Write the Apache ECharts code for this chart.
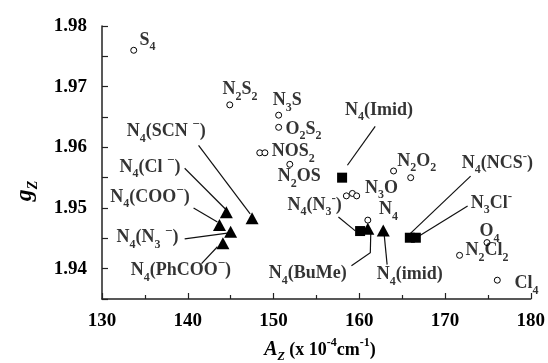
<!DOCTYPE html>
<html>
<head>
<meta charset="utf-8">
<script src="https://cdn.jsdelivr.net/npm/echarts@6/dist/echarts.min.js"></script>
<style>html,body{margin:0;padding:0;background:#fff}#c{width:548px;height:363px}</style>
</head>
<body>
<div id="c"></div>
<script>
// ---- data (A_z in 1e-4 cm^-1, g_z) ----
const openCircles = [
  [133.7, 1.9760], [144.9, 1.9670], [150.6, 1.9653], [150.6, 1.9633],
  [148.4, 1.9591], [149.0, 1.9591], [151.9, 1.9572],
  [158.5, 1.9520], [159.2, 1.9524], [159.7, 1.9520], [161.0, 1.9480],
  [164.0, 1.9561], [166.0, 1.9550],
  [174.9, 1.9443], [171.7, 1.9422], [176.1, 1.9381]
];
const triangles = [
  [147.5, 1.9483], [144.5, 1.9493], [143.7, 1.9472], [145.0, 1.9461],
  [144.1, 1.9442], [161.0, 1.9466], [162.8, 1.9463]
];
const squares = [
  [158.0, 1.9550], [160.1, 1.9462], [165.9, 1.9451], [166.6, 1.9451]
];
// label texts ( _x subscript, ^x superscript )
const labelTexts = [
  'S_4', 'N_2S_2', 'N_3S', 'O_2S_2', 'NOS_2', 'N_2OS', 'N_4(Imid)', 'N_2O_2',
  'N_3O', 'N_4(N_3^-)', 'N_4', 'N_4(NCS^-)', 'N_3Cl^-', 'O_4', 'N_2Cl_2', 'Cl_4',
  'N_4(imid)', 'N_4(BuMe)', 'N_4(SCN ^−)', 'N_4(Cl ^−)', 'N_4(COO^−)',
  'N_4(N_3 ^−)', 'N_4(PhCOO^−)'
];
// label anchors (data coordinates of label centres)
const labelAnchors = [
  [135.3, 1.9777], [146.1, 1.9695], [151.6, 1.9677], [153.5, 1.9630],
  [152.3, 1.9593], [153.0, 1.9552], [162.3, 1.9661], [166.7, 1.9577],
  [162.6, 1.9533], [154.8, 1.9505], [163.4, 1.9497], [176.1, 1.9574],
  [175.4, 1.9508], [175.2, 1.9461], [174.9, 1.9430], [179.5, 1.9375],
  [165.9, 1.9390], [154.0, 1.9392], [137.5, 1.9626], [135.6, 1.9567],
  [135.6, 1.9518], [135.3, 1.9451], [139.2, 1.9397]
];
// leader lines (data coordinates)
const leaderLines = [
  [[161.86, 1.96344], [158.62, 1.95705]],
  [[157.57, 1.94852], [159.54, 1.94623]],
  [[172.99, 1.95525], [165.91, 1.94574]],
  [[172.64, 1.95033], [166.84, 1.94525]],
  [[163.25, 1.94066], [162.90, 1.94574]],
  [[159.09, 1.94049], [161.29, 1.94262], [161.35, 1.94623]],
  [[141.26, 1.96033], [147.28, 1.94902]],
  [[139.64, 1.95656], [144.39, 1.94984]],
  [[140.68, 1.95000], [143.46, 1.94770]],
  [[139.64, 1.94492], [144.85, 1.94590]],
  [[141.61, 1.94082], [143.46, 1.94361]]
];
const xTicks = {min: 130, max: 180, interval: 10};
const yTicks = {min: 1.935, max: 1.98, interval: 0.005};

// ---- rendering ----
const FONT = "'Liberation Serif','Times New Roman',serif";
function toRich(t) {
  let out = '', buf = '';
  const flush = () => { if (buf) { out += '{n|' + buf + '}'; buf = ''; } };
  for (let i = 0; i < t.length; i++) {
    const c = t[i];
    if ((c === '_' || c === '^') && i + 1 < t.length) {
      flush();
      out += (c === '_' ? '{s|' : '{p|') + t[i + 1] + '}';
      i++;
    } else buf += c;
  }
  flush();
  return out;
}
const rich = {
  n: {fontFamily: FONT, fontWeight: 'bold', fontSize: 18, color: '#000', lineHeight: 26},
  s: {fontFamily: FONT, fontWeight: 'bold', fontSize: 12, color: '#000', verticalAlign: 'bottom', lineHeight: 14},
  p: {fontFamily: FONT, fontWeight: 'bold', fontSize: 13, color: '#000', verticalAlign: 'top', lineHeight: 16}
};

const chart = echarts.init(document.getElementById('c'), null, {renderer: 'canvas'});
const axisCommon = {
  axisLine: {show: true, lineStyle: {color: '#222', width: 1.5}},
  axisTick: {show: true, inside: true, length: 6, lineStyle: {color: '#222', width: 1.2}},
  splitLine: {show: false},
  axisLabel: {color: '#000', fontFamily: FONT, fontWeight: 'bold', fontSize: 19}
};
chart.setOption({
  animation: false,
  backgroundColor: '#fff',
  grid: {left: 102, right: 14, top: 26, bottom: 64, containLabel: false},
  xAxis: Object.assign({}, axisCommon, {
    type: 'value', min: xTicks.min, max: xTicks.max, interval: xTicks.interval,
    minorTick: {show: true, splitNumber: 2, length: 4, lineStyle: {color: '#222', width: 1.2}},
    axisLabel: Object.assign({}, axisCommon.axisLabel, {margin: 13})
  }),
  yAxis: Object.assign({}, axisCommon, {
    type: 'value', min: yTicks.min, max: yTicks.max, interval: yTicks.interval,
    axisLabel: Object.assign({}, axisCommon.axisLabel, {
      margin: 15,
      formatter: v => (Math.round(v * 1000) % 10 === 0 ? v.toFixed(2) : '')
    })
  }),
  graphic: [
    {
      type: 'text', x: 25, y: 191, rotation: Math.PI / 2,
      style: {
        text: '{g|g}{z|Z}', align: 'center', verticalAlign: 'middle',
        textAlign: 'center', textVerticalAlign: 'middle',
        rich: {
          g: {fontFamily: FONT, fontStyle: 'italic', fontWeight: 'bold', fontSize: 24, fill: '#000', lineHeight: 30},
          z: {fontFamily: FONT, fontStyle: 'italic', fontWeight: 'bold', fontSize: 14, fill: '#000', verticalAlign: 'bottom', lineHeight: 16}
        }
      }
    },
    {
      type: 'text', x: 320, y: 350,
      style: {
        text: '{a|A}{az|Z}{t| (x 10}{sp|-4}{t|cm}{sp|-1}{t|)}',
        align: 'center', verticalAlign: 'middle',
        textAlign: 'center', textVerticalAlign: 'middle',
        rich: {
          a: {fontFamily: FONT, fontStyle: 'italic', fontWeight: 'bold', fontSize: 20, fill: '#000', lineHeight: 26},
          az: {fontFamily: FONT, fontStyle: 'italic', fontWeight: 'bold', fontSize: 12, fill: '#000', verticalAlign: 'bottom', lineHeight: 14},
          t: {fontFamily: FONT, fontWeight: 'bold', fontSize: 18, fill: '#000', lineHeight: 26},
          sp: {fontFamily: FONT, fontWeight: 'bold', fontSize: 12, fill: '#000', verticalAlign: 'top', lineHeight: 14}
        }
      }
    }
  ],
  series: [
    {
      type: 'lines', coordinateSystem: 'cartesian2d', polyline: true, silent: true, z: 2,
      lineStyle: {color: '#111', width: 1.2, opacity: 1},
      data: leaderLines.map(c => ({coords: c}))
    },
    {
      type: 'scatter', symbol: 'circle', symbolSize: 6, z: 3, silent: true,
      itemStyle: {color: '#fff', borderColor: '#000', borderWidth: 1, opacity: 1},
      data: openCircles
    },
    {
      type: 'scatter', symbol: 'triangle', symbolSize: [13, 12], z: 4, silent: true,
      itemStyle: {color: '#000', opacity: 1},
      data: triangles
    },
    {
      type: 'scatter', symbol: 'rect', symbolSize: [10, 10], z: 4, silent: true,
      itemStyle: {color: '#000', opacity: 1},
      data: squares
    },
    {
      type: 'scatter', symbolSize: 1, z: 5, silent: true,
      itemStyle: {color: 'rgba(0,0,0,0)'},
      label: {
        show: true, position: 'inside', color: '#000',
        formatter: p => toRich(p.name), rich: rich
      },
      data: labelAnchors.map((a, i) => ({name: labelTexts[i], value: a}))
    }
  ]
});
</script>
</body>
</html>
